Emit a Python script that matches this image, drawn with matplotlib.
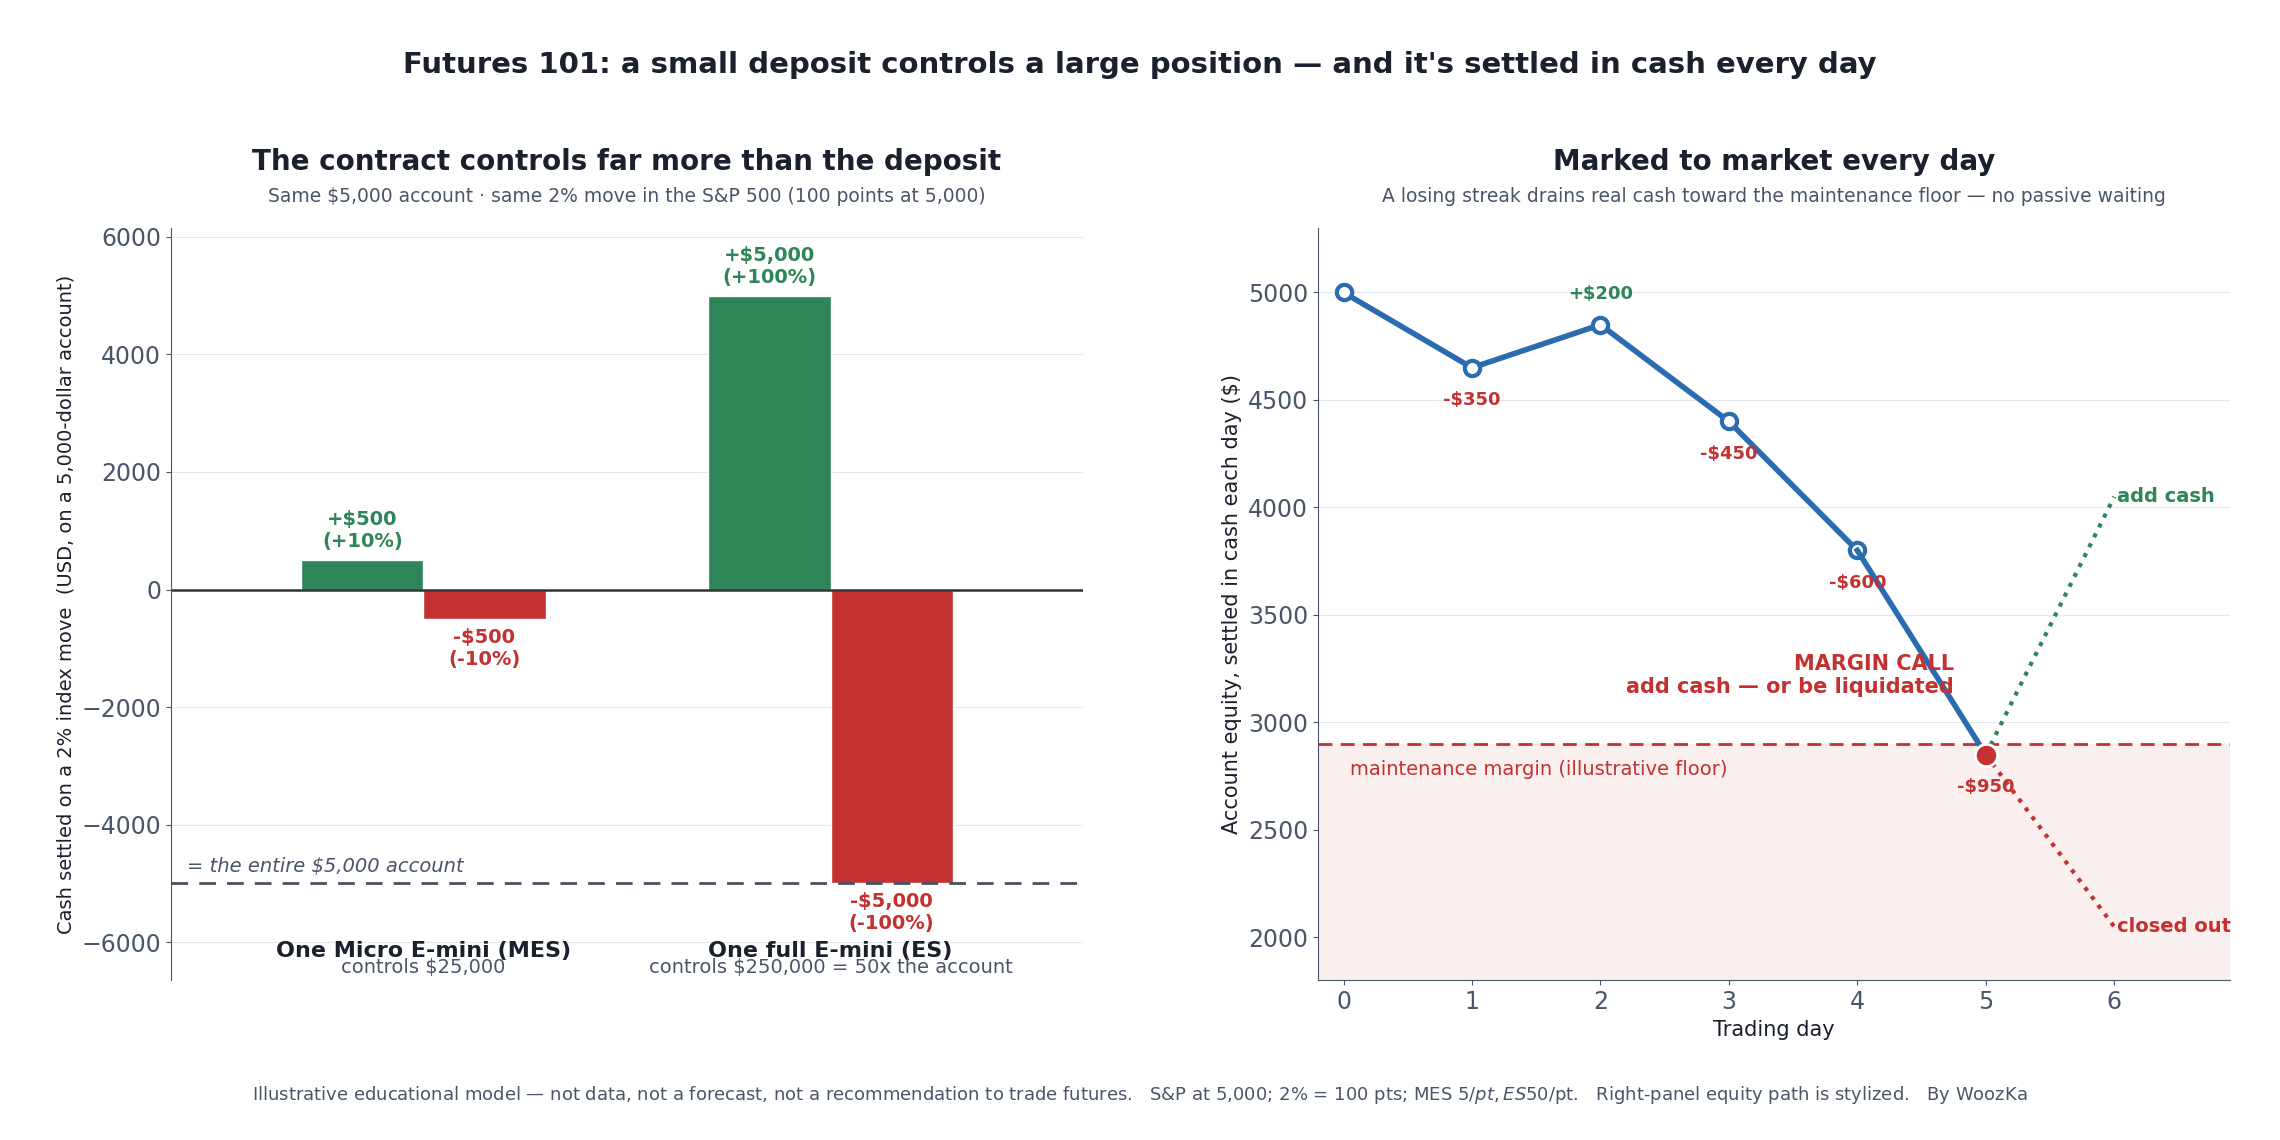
import matplotlib.pyplot as plt

# left panel data
groups = ['One Micro E-mini (MES)', 'One full E-mini (ES)']
group_notes = ['controls $25,000', 'controls $250,000 = 50x the account']
gains = [500, 5000]
losses = [-500, -5000]
gain_labels = ['+$500\n(+10%)', '+$5,000\n(+100%)']
loss_labels = ['-$500\n(-10%)', '-$5,000\n(-100%)']
account = 5000

# right panel data
days = [0, 1, 2, 3, 4, 5]
equity = [5000, 4650, 4850, 4400, 3800, 2850]
changes = ['', '-$350', '+$200', '-$450', '-$600', '-$950']
maint = 2900
recover_days = [5, 6]
recover_eq = [2850, 4050]
liquid_days = [5, 6]
liquid_eq = [2850, 2050]

GREEN = '#2e8558'
RED = '#c33131'
BLUE = '#2b6cb0'
DARK = '#1a202c'
GREY = '#4a5568'

fig = plt.figure(figsize=(22.8, 11.4), dpi=100)
ax1 = fig.add_axes([0.075, 0.14, 0.40, 0.66])
ax2 = fig.add_axes([0.578, 0.14, 0.40, 0.66])

fig.suptitle("Futures 101: a small deposit controls a large position \u2014 and it's settled in cash every day",
             fontsize=21, fontweight='bold', color=DARK, y=0.955)

# ---- left
x = range(len(groups))
w = 0.3
ax1.bar([i - w / 2 for i in x], gains, w, color=GREEN, edgecolor='white')
ax1.bar([i + w / 2 for i in x], losses, w, color=RED, edgecolor='white')
ax1.axhline(0, color='#333333', lw=1.8)
ax1.axhline(-account, color='#4a5060', lw=2, ls=(0, (6, 4)))
ax1.text(-0.58, -4800, '= the entire $5,000 account', fontsize=14, style='italic', color=GREY)
for i in x:
    ax1.text(i - w / 2, gains[i] + 150, gain_labels[i], ha='center', va='bottom',
             fontsize=14, fontweight='bold', color=GREEN)
    ax1.text(i + w / 2, losses[i] - 150, loss_labels[i], ha='center', va='top',
             fontsize=14, fontweight='bold', color=RED)
    ax1.text(i, -6150, groups[i], ha='center', va='center', fontsize=16, fontweight='bold', color=DARK)
    ax1.text(i, -6430, group_notes[i], ha='center', va='center', fontsize=14, color=GREY)
ax1.set_xlim(-0.62, 1.62)
ax1.set_ylim(-6650, 6150)
ax1.set_xticks([])
ax1.set_ylabel('Cash settled on a 2% index move  (USD, on a 5,000-dollar account)', fontsize=14, color=DARK)
ax1.set_title('The contract controls far more than the deposit', fontsize=20, fontweight='bold',
              color=DARK, pad=42)
ax1.text(0.5, 1.035, 'Same $5,000 account \u00b7 same 2% move in the S&P 500 (100 points at 5,000)',
         transform=ax1.transAxes, ha='center', fontsize=13.5, color=GREY)
ax1.grid(axis='y', color='#e2e8f0')
ax1.set_axisbelow(True)

# ---- right
ax2.axhspan(1800, maint, color='#f9efee')
ax2.axhline(maint, color=RED, lw=2, ls=(0, (5, 3)))
ax2.text(0.05, 2780, 'maintenance margin (illustrative floor)', fontsize=14, color=RED, va='center')
ax2.plot(recover_days, recover_eq, color=GREEN, lw=3, ls=':')
ax2.plot(liquid_days, liquid_eq, color=RED, lw=3, ls=':')
ax2.plot(days[:5], equity[:5], color=BLUE, lw=4, marker='o', ms=11, mfc='white', mec=BLUE, mew=3)
ax2.plot(days[4:], equity[4:], color=BLUE, lw=4)
ax2.plot(days[5], equity[5], 'o', color=RED, ms=16, mec='white', mew=2, zorder=5)
for d, e, c in zip(days, equity, changes):
    if not c:
        continue
    if c.startswith('+'):
        ax2.text(d, e + 100, c, ha='center', va='bottom', fontsize=13, fontweight='bold', color=GREEN)
    else:
        ax2.text(d, e - 110, c, ha='center', va='top', fontsize=13, fontweight='bold', color=RED)
ax2.text(6.02, 4050, 'add cash', fontsize=14, fontweight='bold', color=GREEN, va='center')
ax2.text(6.02, 2050, 'closed out', fontsize=14, fontweight='bold', color=RED, va='center')
ax2.text(4.75, 3220, 'MARGIN CALL\nadd cash \u2014 or be liquidated', fontsize=15, fontweight='bold',
         color=RED, ha='right', va='center', multialignment='right')
ax2.set_xlim(-0.2, 6.9)
ax2.set_ylim(1800, 5300)
ax2.set_xlabel('Trading day', fontsize=15, color=DARK)
ax2.set_ylabel('Account equity, settled in cash each day ($)', fontsize=15, color=DARK)
ax2.set_title('Marked to market every day', fontsize=20, fontweight='bold', color=DARK, pad=42)
ax2.text(0.5, 1.035, 'A losing streak drains real cash toward the maintenance floor \u2014 no passive waiting',
         transform=ax2.transAxes, ha='center', fontsize=13.5, color=GREY)
ax2.grid(axis='y', color='#e2e8f0')
ax2.set_axisbelow(True)

for ax in (ax1, ax2):
    ax.spines['top'].set_visible(False)
    ax.spines['right'].set_visible(False)
    ax.spines['left'].set_color(GREY)
    ax.spines['bottom'].set_color(GREY)
    ax.tick_params(labelsize=17, colors=GREY)
ax1.spines['bottom'].set_visible(False)

fig.text(0.5, 0.035, 'Illustrative educational model \u2014 not data, not a forecast, not a recommendation to trade futures.   '
         'S&P at 5,000; 2% = 100 pts; MES $5/pt, ES $50/pt.   Right-panel equity path is stylized.   By WoozKa',
         ha='center', fontsize=13, color=GREY)

fig.savefig('out.png', dpi=100)
